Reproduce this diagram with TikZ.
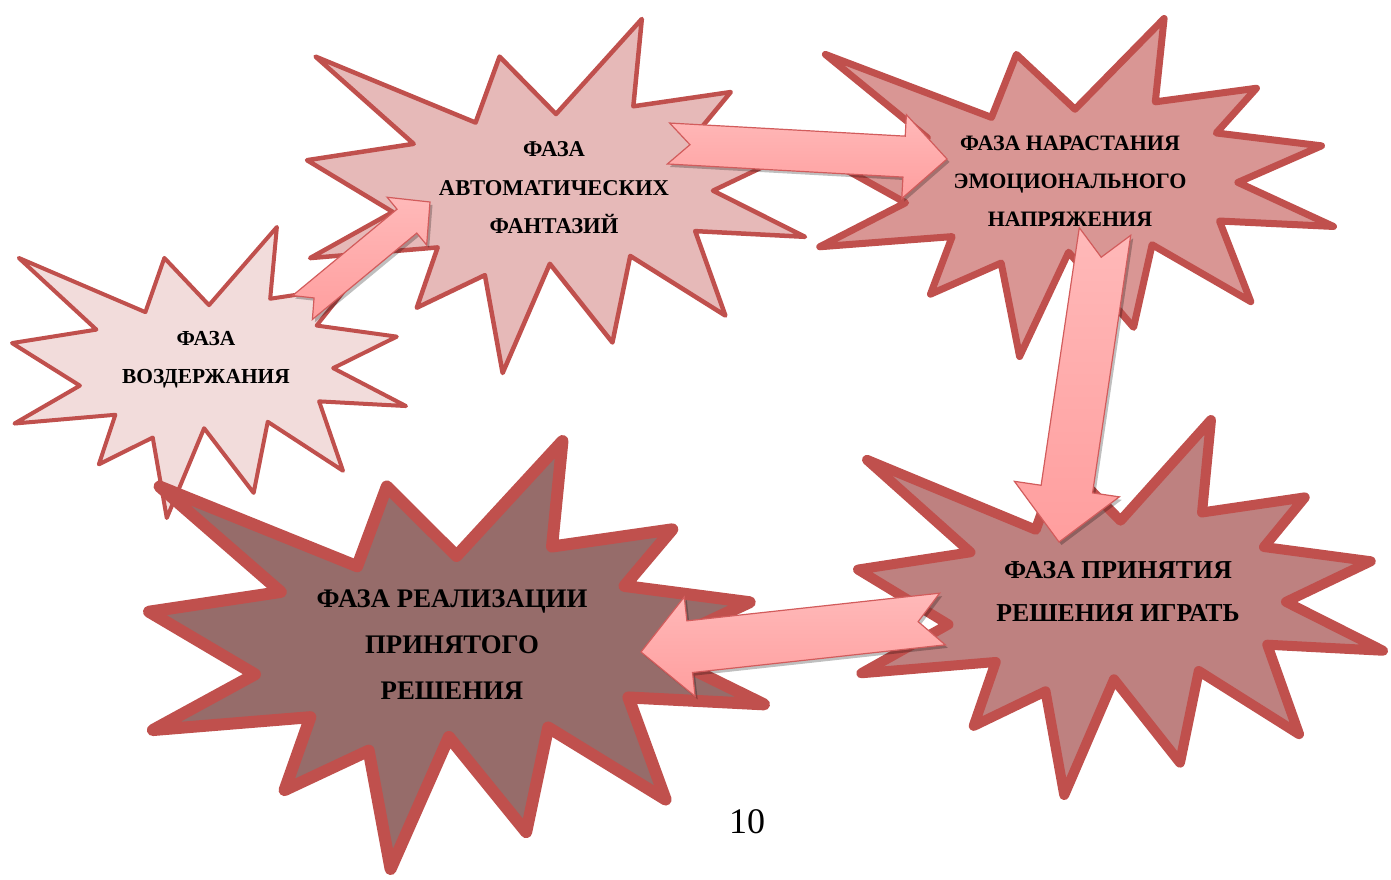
\documentclass[tikz,border=0pt]{standalone}
\usepackage{fontspec}
\setmainfont{Liberation Serif}
\usetikzlibrary{calc,shadows}
\definecolor{sealred}{HTML}{C0504D}
\definecolor{fillA}{HTML}{F2DCDB}
\definecolor{fillB}{HTML}{E6B9B8}
\definecolor{fillC}{HTML}{D99694}
\definecolor{fillD}{HTML}{BE8180}
\definecolor{fillE}{HTML}{966C6A}
\definecolor{arrlight}{HTML}{FFB9B9}
\definecolor{arrdark}{HTML}{FF9E9E}
\definecolor{arredge}{HTML}{D25C5C}
\tikzset{
  pics/seal/.style={code={%
    \draw[pic actions] (0.5,0.26852) -- (0.67231,0) -- (0.65532,0.24653) -- (0.85093,0.20634)
      -- (0.77324,0.33866) -- (0.97671,0.37671) -- (0.81514,0.48495) -- (1,0.61528)
      -- (0.77949,0.59917) -- (0.84005,0.83773) -- (0.64907,0.66931) -- (0.61329,0.91375)
      -- (0.48759,0.69144) -- (0.39282,1) -- (0.35718,0.72347) -- (0.22046,0.81560)
      -- (0.26236,0.64523) -- (0.00625,0.67532) -- (0.17231,0.54514) -- (0,0.39884)
      -- (0.21421,0.35264) -- (0.01713,0.10625) -- (0.33852,0.29259) -- (0.38667,0.10625)
      -- cycle;}},
  sealstyle/.style={draw=sealred, line join=round},
  lbl/.style={align=center, inner sep=0pt},
  arrowstyle/.style={draw=arredge, line width=1.2pt, line join=miter,
    top color=arrlight, bottom color=arrdark,
    drop shadow={shadow xshift=2.5pt, shadow yshift=-3pt, opacity=0.25, fill=black}}
}
% #1 tail, #2 tip, #3 half shaft width, #4 half head width, #5 head length, #6 notch depth
\newcommand\blockarrow[6]{%
  \path ($(#2)!#5pt!(#1)$) coordinate (#2-b);
  \draw[arrowstyle] ($(#1)!#3pt!90:(#2)$) -- ($(#2-b)!#3pt!-90:(#1)$)
     -- ($(#2-b)!#4pt!-90:(#1)$) -- (#2) -- ($(#2-b)!#4pt!90:(#1)$)
     -- ($(#2-b)!#3pt!90:(#1)$) -- ($(#1)!#3pt!-90:(#2)$) -- ($(#1)!#6pt!(#2)$) -- cycle;
}
\begin{document}
\begin{tikzpicture}[x=1pt,y=-1pt]
\useasboundingbox (0,0) rectangle (1391,879);
\fill[white] (0,0) rectangle (1391,879);
% starbursts
\pic[sealstyle, fill=fillA, line width=4pt, xscale=394, yscale=291] at (12,227) {seal};
\pic[sealstyle, fill=fillB, line width=4.5pt, xscale=498, yscale=354] at (307,19) {seal};
\pic[sealstyle, fill=fillC, line width=7pt, xscale=517, yscale=338] at (816.5,18.5) {seal};
\pic[sealstyle, fill=fillD, line width=10pt, xscale=525, yscale=375] at (858,420) {seal};
\pic[sealstyle, fill=fillE, line width=12pt, xscale=615, yscale=428] at (149,441) {seal};
% labels
\node[lbl, font=\bfseries\fontsize{21.4}{38}\selectfont] (s1) at (206,360) {ФАЗА\\ВОЗДЕРЖАНИЯ};
\node[lbl, font=\bfseries\fontsize{22.6}{38.5}\selectfont] (s2) at (554,188) {ФАЗА\\АВТОМАТИЧЕСКИХ\\ФАНТАЗИЙ};
\node[lbl, font=\bfseries\fontsize{22}{38}\selectfont] (s3) at (1070,181) {ФАЗА НАРАСТАНИЯ\\ЭМОЦИОНАЛЬНОГО\\НАПРЯЖЕНИЯ};
\node[lbl, font=\bfseries\fontsize{25.8}{43.5}\selectfont] (s4) at (1118,591.5) {ФАЗА ПРИНЯТИЯ\\РЕШЕНИЯ ИГРАТЬ};
\node[lbl, font=\bfseries\fontsize{26.8}{46}\selectfont] (s5) at (452,645) {ФАЗА РЕАЛИЗАЦИИ\\ПРИНЯТОГО\\РЕШЕНИЯ};
% arrows
\coordinate (a1t) at (302.5,307.5); \coordinate (a1h) at (430,202);
\coordinate (a2t) at (668.5,143.5); \coordinate (a2h) at (947,159);
\coordinate (a3t) at (1105,231.5); \coordinate (a3h) at (1059,542);
\coordinate (a4t) at (942.5,619);  \coordinate (a4h) at (641,652);
\blockarrow{a1t}{a1h}{15.5}{31}{30}{15}
\blockarrow{a2t}{a2h}{20.5}{42}{43}{21.5}
\blockarrow{a3t}{a3h}{26}{53}{53.5}{26}
\blockarrow{a4t}{a4h}{26}{50}{49}{24.5}
% page number
\node[font=\fontsize{36}{40}\selectfont, inner sep=0pt] (pg) at (747,822) {10};
\end{tikzpicture}
\end{document}
